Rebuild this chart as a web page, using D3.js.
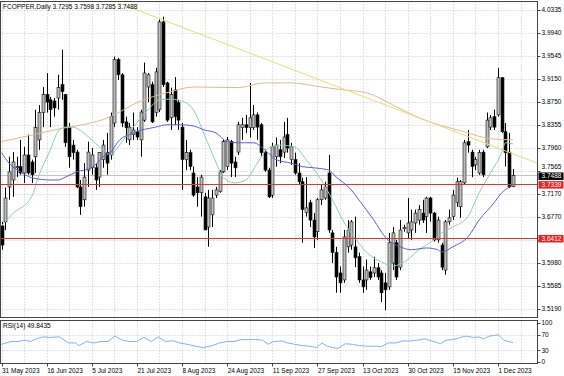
<!DOCTYPE html>
<html>
<head>
<meta charset="utf-8">
<script src="https://cdn.jsdelivr.net/npm/d3@7"></script>
<style>
  body { margin: 0; background: #fff; }
  text { font-family: "Liberation Sans", Arial, sans-serif; font-size: 6.5px; fill: #000; }
</style>
</head>
<body>
<svg id="chart" width="564" height="376"></svg>
<script>
var symbolTitle = "FCOPPER,Daily  3.7295 3.7598 3.7285 3.7488";
var rsiTitle = "RSI(14) 49.8435";

var dateLabels = ["31 May 2023", "16 Jun 2023", "5 Jul 2023", "21 Jul 2023", "8 Aug 2023", "24 Aug 2023",
                  "11 Sep 2023", "27 Sep 2023", "13 Oct 2023", "30 Oct 2023", "15 Nov 2023", "1 Dec 2023"];
var dateBars = [0, 12, 24, 36, 48, 60, 72, 84, 96, 108, 120, 132];

var priceTicks = [4.0335, 3.9940, 3.9545, 3.9150, 3.8750, 3.8355, 3.7960, 3.7565, 3.7170, 3.6770, 3.6380, 3.5980, 3.5585, 3.5190];
// 3.6380 sits under the red 3.6412 price box, so it gets a grid line but no label
var hiddenTicks = [3.6380];
var rsiTicks = [100, 70, 30, 0];
var rsiLevels = [70, 30];

var redLines = [3.7339, 3.6412];
var lastPrice = 3.7488;

// open, high, low, close
var ohlc = [
  [3.662,3.669,3.621,3.629],[3.669,3.728,3.655,3.710],[3.729,3.781,3.707,3.755],[3.741,3.789,3.712,3.772],
  [3.762,3.781,3.746,3.764],[3.764,3.810,3.750,3.753],[3.753,3.798,3.736,3.784],[3.784,3.819,3.750,3.753],
  [3.772,3.776,3.736,3.750],[3.781,3.862,3.753,3.831],[3.810,3.870,3.793,3.857],[3.857,3.901,3.832,3.888],
  [3.888,3.925,3.857,3.875],[3.879,3.884,3.832,3.862],[3.877,3.882,3.850,3.865],[3.882,3.922,3.862,3.900],
  [3.905,3.965,3.879,3.893],[3.888,3.889,3.798,3.805],[3.832,3.839,3.762,3.781],[3.801,3.810,3.776,3.788],
  [3.789,3.793,3.727,3.729],[3.729,3.741,3.681,3.695],[3.707,3.770,3.695,3.746],[3.758,3.807,3.729,3.789],
  [3.762,3.796,3.750,3.784],[3.762,3.770,3.724,3.741],[3.746,3.789,3.729,3.788],[3.776,3.810,3.762,3.801],
  [3.788,3.822,3.750,3.770],[3.784,3.857,3.776,3.850],[3.839,3.953,3.832,3.948],[3.948,3.951,3.913,3.922],
  [3.922,3.925,3.832,3.839],[3.841,3.850,3.805,3.831],[3.810,3.839,3.801,3.832],[3.819,3.857,3.810,3.827],
  [3.824,3.832,3.810,3.815],[3.810,3.862,3.781,3.858],[3.844,3.943,3.841,3.925],[3.901,3.925,3.875,3.922],
  [3.905,3.910,3.839,3.841],[3.857,3.934,3.850,3.927],[3.862,4.017,3.858,4.013],[4.013,4.022,3.901,3.905],
  [3.908,3.910,3.841,3.844],[3.848,3.900,3.827,3.888],[3.896,3.918,3.836,3.850],[3.874,3.879,3.827,3.844],
  [3.832,3.839,3.724,3.776],[3.776,3.810,3.758,3.788],[3.788,3.793,3.758,3.764],[3.753,3.764,3.712,3.715],
  [3.729,3.746,3.695,3.719],[3.719,3.750,3.678,3.746],[3.712,3.719,3.655,3.655],[3.660,3.724,3.626,3.710],
  [3.681,3.724,3.660,3.710],[3.715,3.729,3.710,3.724],[3.721,3.758,3.719,3.755],[3.755,3.810,3.753,3.807],
  [3.764,3.815,3.758,3.810],[3.807,3.810,3.746,3.770],[3.772,3.781,3.746,3.762],[3.789,3.841,3.784,3.836],
  [3.831,3.848,3.810,3.836],[3.836,3.853,3.822,3.831],[3.831,3.908,3.814,3.848],[3.831,3.870,3.827,3.853],
  [3.853,3.857,3.810,3.832],[3.836,3.839,3.781,3.788],[3.789,3.793,3.755,3.758],[3.758,3.762,3.710,3.712],
  [3.715,3.805,3.710,3.798],[3.781,3.814,3.764,3.801],[3.793,3.810,3.770,3.781],[3.789,3.841,3.779,3.815],
  [3.819,3.848,3.788,3.796],[3.776,3.805,3.767,3.798],[3.776,3.788,3.750,3.753],[3.753,3.770,3.733,3.738],
  [3.738,3.745,3.633,3.690],[3.685,3.746,3.678,3.693],[3.702,3.707,3.660,3.672],[3.672,3.684,3.624,3.643],
  [3.652,3.710,3.638,3.707],[3.707,3.733,3.698,3.724],[3.710,3.738,3.707,3.729],[3.753,3.784,3.650,3.655],
  [3.650,3.655,3.598,3.616],[3.616,3.626,3.547,3.574],[3.581,3.592,3.547,3.564],[3.569,3.655,3.564,3.643],
  [3.626,3.672,3.616,3.655],[3.629,3.672,3.621,3.669],[3.626,3.678,3.591,3.607],[3.609,3.616,3.564,3.569],
  [3.569,3.592,3.547,3.557],[3.569,3.604,3.552,3.586],[3.583,3.592,3.569,3.573],[3.581,3.609,3.574,3.590],
  [3.590,3.598,3.569,3.574],[3.581,3.586,3.531,3.547],[3.564,3.581,3.517,3.552],[3.557,3.650,3.552,3.633],
  [3.598,3.660,3.586,3.650],[3.633,3.638,3.569,3.574],[3.591,3.672,3.586,3.655],[3.657,3.664,3.652,3.659],
  [3.650,3.710,3.641,3.667],[3.655,3.690,3.638,3.669],[3.667,3.690,3.650,3.684],[3.672,3.698,3.664,3.690],
  [3.684,3.707,3.667,3.672],[3.678,3.712,3.650,3.710],[3.710,3.712,3.669,3.684],[3.684,3.686,3.635,3.638],
  [3.638,3.678,3.633,3.672],[3.629,3.633,3.586,3.591],[3.586,3.672,3.578,3.669],[3.669,3.690,3.664,3.676],
  [3.678,3.724,3.672,3.715],[3.702,3.745,3.695,3.738],[3.695,3.741,3.676,3.738],[3.736,3.810,3.733,3.805],
  [3.807,3.827,3.788,3.801],[3.789,3.793,3.746,3.764],[3.767,3.781,3.758,3.776],[3.753,3.793,3.750,3.788],
  [3.789,3.793,3.746,3.750],[3.798,3.857,3.796,3.844],[3.832,3.853,3.827,3.848],[3.850,3.862,3.827,3.832],
  [3.853,3.934,3.850,3.917],[3.917,3.918,3.822,3.824],[3.824,3.839,3.764,3.788],[3.789,3.822,3.727,3.729],
  [3.7295,3.7598,3.7285,3.7488]
];

// moving averages (bar index, price)
var fastBars = [0,3,8,10,13,15,17,19,21,24,27,29,31,35,39,42,45,49,51,54,57,59,62,65,68,71,74,78,81,85,88,91,94,97,101,104,108,111,115,117,120,124,127,130,133,134,136];
var fastVals = [3.662,3.683,3.712,3.750,3.793,3.824,3.832,3.832,3.826,3.810,3.793,3.784,3.798,3.832,3.862,3.879,3.880,3.874,3.862,3.818,3.772,3.745,3.736,3.741,3.770,3.796,3.801,3.798,3.776,3.741,3.707,3.669,3.641,3.617,3.600,3.593,3.604,3.621,3.638,3.650,3.660,3.678,3.719,3.753,3.788,3.805,3.803];

var midBars = [0,2,5,8,13,15,17,20,24,27,29,31,35,41,44,48,51,54,57,60,63,67,70,73,77,80,83,87,89,93,95,99,102,106,109,113,116,117,120,124,127,131,133,135,136];
var midVals = [3.788,3.770,3.755,3.745,3.741,3.741,3.746,3.755,3.762,3.781,3.788,3.807,3.822,3.832,3.836,3.836,3.834,3.827,3.822,3.807,3.805,3.805,3.793,3.776,3.770,3.764,3.762,3.758,3.746,3.724,3.707,3.672,3.643,3.626,3.621,3.624,3.621,3.617,3.626,3.643,3.672,3.702,3.719,3.729,3.734];

var slowBars = [0,14,29,36,45,51,63,70,77,85,91,97,105,111,123,130,136];
var slowVals = [3.807,3.827,3.850,3.874,3.893,3.901,3.900,3.908,3.908,3.901,3.896,3.891,3.867,3.848,3.824,3.812,3.810];

var trendBars = [31, 136];
var trendVals = [4.046, 3.786];

var rsiBars = [0,2.5,4.4,6.3,7.7,9.2,11.1,13,15.4,17.8,19.7,20.6,22.6,24.5,26.4,28.3,30.2,32.1,34,35.9,37.9,39.8,41.7,43.6,45.5,47.4,49.3,51.7,53.6,56,58,59.9,61.8,63.7,65.6,67.5,69.4,70.9,72.3,74.7,76.1,78,80,81.9,83.8,85.2,86.6,88.1,89.5,91.4,93.3,95.2,97.2,99.1,101,102.9,104.8,106.7,108.6,110.6,112.5,114.4,116.8,118.2,120.1,122,123.5,125.4,126.8,128.2,129.7,131.1,132.1,133.5,135.4,136];
var rsiVals = [45.4,52.5,52.5,56,52.5,59.5,64.4,63,64.4,48.9,48.9,41.9,52.5,48.9,52.5,52.5,66.5,56,52.5,52.5,63,52.5,64.4,52.5,54.6,48.9,45.4,40.5,37,41.9,48.9,52.5,52.5,57.4,57.4,57.4,56,45.4,52.5,53.9,48.9,45.4,41.9,40.5,37,48.9,40.5,37,34.9,46.8,45.4,41.9,40.5,40.5,39.8,48.9,48.9,53.9,53.9,56,59.5,53.9,46.8,56,57.4,63,66.5,63,64.4,59.5,66.5,67.9,70,56,51,49.8];

var plotL = 0.5, plotR = 537.5;
var mainT = 1.5, mainB = 317.5;
var rsiT = 320.5, rsiB = 363.5;

var svg = d3.select("#chart");

var x = d3.scaleLinear().domain([0, ohlc.length - 1]).range([1.5, 513]);
var y = d3.scaleLinear().domain([3.5190, 4.0335]).range([309, 10]);
var yr = d3.scaleLinear().domain([0, 100]).range([362, 323]);

svg.append("defs").append("clipPath").attr("id", "clipMain")
  .append("rect").attr("x", plotL).attr("y", mainT).attr("width", plotR - plotL).attr("height", mainB - mainT);
svg.select("defs").append("clipPath").attr("id", "clipRsi")
  .append("rect").attr("x", plotL).attr("y", rsiT).attr("width", plotR - plotL).attr("height", rsiB - rsiT);

var gridCol = "#c4c4c4";
var gridBars = d3.range(0, ohlc.length + 3, 6);

// grid
var grid = svg.append("g").attr("stroke", gridCol).attr("stroke-width", 1).attr("stroke-dasharray", "1,2");
grid.selectAll(".gh").data(priceTicks).enter().append("line")
  .attr("x1", plotL).attr("x2", plotR)
  .attr("y1", d => Math.round(y(d)) + 0.5).attr("y2", d => Math.round(y(d)) + 0.5);
grid.selectAll(".gv").data(gridBars).enter().append("line")
  .attr("x1", d => Math.round(x(d)) + 0.5).attr("x2", d => Math.round(x(d)) + 0.5)
  .attr("y1", mainT).attr("y2", mainB);
grid.selectAll(".gvr").data(gridBars).enter().append("line")
  .attr("x1", d => Math.round(x(d)) + 0.5).attr("x2", d => Math.round(x(d)) + 0.5)
  .attr("y1", rsiT).attr("y2", rsiB);
grid.selectAll(".gl").data(rsiLevels).enter().append("line")
  .attr("x1", plotL).attr("x2", plotR)
  .attr("y1", d => Math.round(yr(d)) + 0.5).attr("y2", d => Math.round(yr(d)) + 0.5);

var main = svg.append("g").attr("clip-path", "url(#clipMain)");

// bid line
main.append("line").attr("x1", plotL).attr("x2", plotR)
  .attr("y1", y(lastPrice)).attr("y2", y(lastPrice))
  .attr("stroke", "#c0c0c0").attr("stroke-width", 1);

// candles
var cw = 3;
var candles = main.selectAll(".candle").data(ohlc).enter().append("g");
candles.append("line")
  .attr("x1", (d, i) => Math.round(x(i)) + 0.5).attr("x2", (d, i) => Math.round(x(i)) + 0.5)
  .attr("y1", d => y(d[1])).attr("y2", d => y(d[2]))
  .attr("stroke", "#000").attr("stroke-width", 1);
candles.append("rect")
  .attr("x", (d, i) => Math.round(x(i)) + 0.5 - cw / 2)
  .attr("width", cw)
  .attr("y", d => y(Math.max(d[0], d[3])))
  .attr("height", d => Math.max(0.8, Math.abs(y(d[0]) - y(d[3]))))
  .attr("fill", d => d[3] >= d[0] ? "#bdbdbd" : "#000")
  .attr("stroke", "#111").attr("stroke-width", 0.6);

// moving averages
function maLine(bars, vals, col) {
  var pts = bars.map((b, i) => [x(b), y(vals[i])]);
  main.append("path").attr("d", d3.line().curve(d3.curveMonotoneX)(pts))
    .attr("fill", "none").attr("stroke", col).attr("stroke-width", 1);
}
maLine(slowBars, slowVals, "#dcb996");
maLine(fastBars, fastVals, "#8ccdb0");
maLine(midBars, midVals, "#5e5ecc");

// trend line, a ray to the right edge
var tSlope = (trendVals[1] - trendVals[0]) / (trendBars[1] - trendBars[0]);
var tEndBar = x.invert(plotR);
main.append("line")
  .attr("x1", x(trendBars[0])).attr("y1", y(trendVals[0]))
  .attr("x2", x(tEndBar)).attr("y2", y(trendVals[0] + tSlope * (tEndBar - trendBars[0])))
  .attr("stroke", "#e8dc78").attr("stroke-width", 1);

// horizontal red lines
main.selectAll(".hl").data(redLines).enter().append("line")
  .attr("x1", plotL).attr("x2", plotR)
  .attr("y1", d => Math.round(y(d)) + 0.5).attr("y2", d => Math.round(y(d)) + 0.5)
  .attr("stroke", "#e83030").attr("stroke-width", 1);

// rsi
var rsiG = svg.append("g").attr("clip-path", "url(#clipRsi)");
rsiG.append("path")
  .attr("d", d3.line()(rsiBars.map((b, i) => [x(b), yr(rsiVals[i])])))
  .attr("fill", "none").attr("stroke", "#7fb2e6").attr("stroke-width", 1);

// frames
var frame = svg.append("g").attr("fill", "none").attr("stroke", "#444").attr("stroke-width", 1);
frame.append("rect").attr("x", plotL).attr("y", mainT).attr("width", plotR - plotL).attr("height", mainB - mainT);
frame.append("rect").attr("x", plotL).attr("y", rsiT).attr("width", plotR - plotL).attr("height", rsiB - rsiT);

// right axis ticks + labels
var ax = svg.append("g");
ax.selectAll(".pt").data(priceTicks).enter().append("line")
  .attr("x1", plotR).attr("x2", plotR + 3)
  .attr("y1", d => Math.round(y(d)) + 0.5).attr("y2", d => Math.round(y(d)) + 0.5)
  .attr("stroke", "#444");
// a tick label right above the bid box is pushed up so the two do not collide
function labelY(d) {
  var gap = y(lastPrice) - y(d);
  return (gap > 0 && gap < 9) ? y(lastPrice) - 9 : y(d);
}
ax.selectAll(".pl").data(priceTicks.filter(d => hiddenTicks.indexOf(d) < 0)).enter().append("text")
  .attr("x", plotR + 4).attr("y", labelY).attr("dy", "0.32em")
  .text(d => d.toFixed(4));
ax.selectAll(".rt").data(rsiTicks).enter().append("line")
  .attr("x1", plotR).attr("x2", plotR + 3)
  .attr("y1", d => Math.round(yr(d)) + 0.5).attr("y2", d => Math.round(yr(d)) + 0.5)
  .attr("stroke", "#444");
ax.selectAll(".rl").data(rsiTicks).enter().append("text")
  .attr("x", plotR + 4).attr("y", d => yr(d)).attr("dy", "0.35em")
  .text(d => d);

// price boxes
function priceBox(v, bg) {
  var yy = y(v);
  ax.append("rect").attr("x", plotR + 1).attr("y", yy - 3).attr("width", 25).attr("height", 7.5).attr("fill", bg);
  ax.append("text").attr("x", plotR + 4).attr("y", yy + 0.75).attr("dy", "0.35em")
    .style("fill", "#fff").text(v.toFixed(4));
}
redLines.forEach(v => priceBox(v, "#e82020"));
priceBox(lastPrice, "#000");

// date axis
ax.selectAll(".dt").data(dateBars).enter().append("line")
  .attr("x1", d => Math.round(x(d)) + 0.5).attr("x2", d => Math.round(x(d)) + 0.5)
  .attr("y1", rsiB).attr("y2", rsiB + 3).attr("stroke", "#444");
ax.selectAll(".dl").data(dateBars).enter().append("text")
  .attr("x", d => x(d) + 0.5).attr("y", 373)
  .text((d, i) => dateLabels[i]);

// titles
svg.append("text").attr("x", 3).attr("y", 9).text(symbolTitle);
svg.append("text").attr("x", 3).attr("y", 328).text(rsiTitle);
</script>
</body>
</html>
